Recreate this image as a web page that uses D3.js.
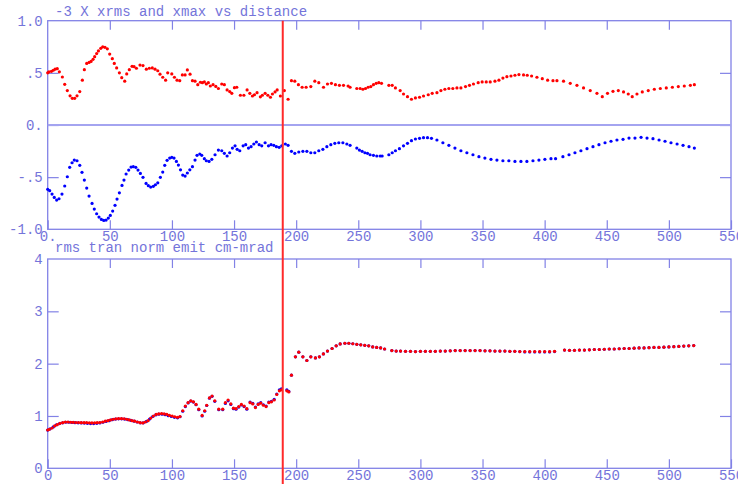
<!DOCTYPE html>
<html>
<head>
<meta charset="utf-8">
<script src="https://cdn.jsdelivr.net/npm/d3@7"></script>
<style>
  body { margin: 0; background: #fff; }
  svg text { font-family: "Liberation Mono", monospace; font-size: 14px; fill: #7474da; }
</style>
</head>
<body>
<svg id="chart" width="738" height="484"></svg>
<script>
const xmaxPts = [[0,0.50],[1,0.51],[3,0.515],[4.5,0.525],[6,0.535],[7.7,0.54],[9.4,0.51],[11.8,0.46],[13.7,0.39],[15.8,0.33],[18,0.28],[19.8,0.256],[21.7,0.256],[23.6,0.28],[25.8,0.32],[27.9,0.43],[29.5,0.53],[31.4,0.59],[33.3,0.60],[34.9,0.61],[36.5,0.63],[37.8,0.655],[39.4,0.685],[40.8,0.71],[42.7,0.735],[44.3,0.75],[46.1,0.745],[48,0.73],[49.9,0.68],[52,0.636],[53.6,0.59],[55.5,0.547],[57.7,0.50],[59.6,0.454],[62,0.42],[63.6,0.49],[65.7,0.53],[67.9,0.563],[69.5,0.56],[71.4,0.544],[74.3,0.575],[76.7,0.57],[79.4,0.535],[81.8,0.544],[84.2,0.547],[86.4,0.535],[88.6,0.52],[90.4,0.487],[92.6,0.458],[94.9,0.43],[96.6,0.50],[99.9,0.49],[102,0.458],[104.1,0.43],[106.3,0.425],[108.4,0.48],[110.6,0.48],[112.4,0.528],[114.6,0.487],[116.5,0.425],[118.6,0.42],[120.8,0.387],[122.9,0.41],[124.5,0.406],[126.1,0.413],[127.7,0.393],[129.3,0.406],[130.9,0.374],[133.1,0.387],[135.3,0.37],[137.4,0.35],[140.1,0.393],[142.2,0.387],[144.4,0.336],[146.5,0.32],[148.2,0.304],[150.3,0.358],[152.2,0.362],[155.1,0.285],[157.9,0.285],[160.5,0.336],[162.7,0.304],[164.8,0.278],[166.4,0.29],[168.5,0.31],[171.2,0.27],[172.8,0.285],[175,0.304],[177.2,0.285],[179.3,0.266],[180.9,0.297],[183,0.317],[184.7,0.336],[187.3,0.278],[190.5,0.33],[193.5,0.247],[196.2,0.425],[198.9,0.42],[201.8,0.387],[204.8,0.362],[208,0.362],[211.8,0.368],[215,0.42],[218.2,0.406],[222,0.362],[225.2,0.393],[228.4,0.40],[231.6,0.387],[234.8,0.38],[238.1,0.38],[241.8,0.374],[243.4,0.362],[248.8,0.35],[251.5,0.35],[253.7,0.343],[255.8,0.35],[257.9,0.362],[260.1,0.368],[262.2,0.387],[264.4,0.40],[266.5,0.406],[268.7,0.40],[274.6,0.38],[277.3,0.38],[279.9,0.355],[283.7,0.33],[286.4,0.297],[289.6,0.272],[292.8,0.247],[296,0.26],[299.3,0.266],[302.5,0.278],[306.3,0.29],[309.5,0.304],[313.3,0.31],[316.5,0.33],[319.7,0.343],[322.9,0.35],[326.1,0.35],[329.4,0.355],[332.6,0.355],[336.3,0.368],[339.5,0.38],[342.7,0.393],[346.5,0.406],[349.7,0.413],[353,0.413],[356.2,0.413],[360,0.42],[363.2,0.43],[366.4,0.45],[369.6,0.463],[372.9,0.47],[376.1,0.477],[379.3,0.483],[383,0.48],[386,0.477],[389.5,0.47],[393.8,0.458],[398.1,0.444],[402.4,0.43],[406.7,0.425],[409.9,0.425],[415.2,0.42],[420.6,0.40],[426,0.38],[431.3,0.355],[436.7,0.33],[442.1,0.304],[446.4,0.272],[450.6,0.304],[455,0.323],[459.3,0.33],[463.5,0.317],[467.3,0.297],[470.5,0.272],[474.3,0.297],[478.6,0.317],[483.4,0.33],[488.3,0.343],[493.1,0.35],[497.9,0.355],[502.8,0.362],[507.6,0.368],[512.4,0.374],[517.3,0.38],[520.5,0.387]];

const xrmsPts = [[0,-0.617],[1.6,-0.63],[3.5,-0.662],[5.3,-0.694],[7.2,-0.72],[9.1,-0.707],[11.5,-0.662],[13.7,-0.585],[15.8,-0.496],[17.7,-0.406],[19.6,-0.362],[21.4,-0.336],[23.6,-0.343],[25.8,-0.387],[27.6,-0.454],[29.5,-0.528],[31.4,-0.605],[33.3,-0.681],[35.7,-0.752],[37.5,-0.806],[39.4,-0.851],[41.3,-0.883],[43.2,-0.905],[45.1,-0.915],[47,-0.912],[48.8,-0.892],[50.4,-0.867],[52.3,-0.825],[54.2,-0.77],[55.8,-0.71],[57.7,-0.65],[59.8,-0.579],[61.4,-0.528],[63.1,-0.47],[65.2,-0.432],[67.1,-0.403],[68.9,-0.40],[70.9,-0.406],[72.7,-0.432],[74.6,-0.464],[76.7,-0.502],[79.2,-0.56],[81,-0.582],[82.9,-0.595],[85,-0.588],[86.7,-0.573],[88.6,-0.554],[90.7,-0.502],[92.6,-0.451],[94.2,-0.387],[96.1,-0.339],[98.2,-0.317],[99.9,-0.31],[101.7,-0.317],[103.6,-0.349],[105.2,-0.384],[106.9,-0.43],[108.7,-0.48],[110.6,-0.49],[112.4,-0.46],[114.4,-0.43],[116.5,-0.40],[118.6,-0.336],[120.2,-0.291],[122.4,-0.278],[124,-0.291],[126.1,-0.323],[127.7,-0.343],[129.9,-0.349],[132.1,-0.329],[134.7,-0.285],[137.4,-0.24],[140.1,-0.247],[142.2,-0.272],[144.4,-0.297],[146.5,-0.266],[148.7,-0.221],[150.8,-0.20],[152.5,-0.233],[154.6,-0.247],[157.3,-0.20],[159.4,-0.189],[161.6,-0.221],[163.7,-0.208],[165.9,-0.182],[168,-0.163],[170.2,-0.189],[172.3,-0.20],[175,-0.17],[177.7,-0.20],[179.8,-0.189],[182,-0.195],[184.1,-0.208],[186.3,-0.214],[188.4,-0.20],[191.3,-0.182],[193.5,-0.195],[196.2,-0.252],[198.9,-0.272],[202.1,-0.259],[205.4,-0.252],[208.6,-0.252],[211.8,-0.266],[215,-0.266],[218.2,-0.247],[221.5,-0.233],[224.7,-0.208],[227.9,-0.189],[231.1,-0.176],[234.3,-0.17],[237.6,-0.17],[240.8,-0.182],[243.4,-0.195],[248.8,-0.221],[250.9,-0.24],[253.1,-0.252],[255.3,-0.266],[257.4,-0.272],[259.5,-0.285],[262.2,-0.291],[264.9,-0.297],[267.6,-0.297],[269.2,-0.297],[274.6,-0.285],[277.3,-0.266],[279.9,-0.247],[283.1,-0.227],[286.4,-0.20],[289.6,-0.176],[292.8,-0.15],[296,-0.134],[299.3,-0.128],[302.5,-0.122],[305.7,-0.122],[308.9,-0.128],[313.3,-0.144],[318.1,-0.17],[322.9,-0.195],[327.8,-0.221],[332.6,-0.247],[337.4,-0.266],[342.3,-0.285],[347.1,-0.304],[351.9,-0.317],[356.8,-0.329],[361.6,-0.336],[366.4,-0.343],[371.2,-0.343],[376.1,-0.349],[380.9,-0.349],[385.7,-0.349],[390.6,-0.343],[395.4,-0.336],[400.2,-0.329],[405.1,-0.323],[408.8,-0.323],[414.7,-0.304],[419.6,-0.285],[424.4,-0.266],[429.2,-0.247],[434.1,-0.227],[438.9,-0.208],[443.7,-0.189],[448.6,-0.17],[453.4,-0.156],[458.2,-0.144],[463.1,-0.137],[467.9,-0.125],[472.7,-0.125],[477.6,-0.118],[482.4,-0.125],[487.2,-0.131],[492.1,-0.144],[496.9,-0.156],[501.7,-0.17],[506.6,-0.182],[511.4,-0.195],[516.2,-0.208],[520.5,-0.221]];

const emitBluePts = [[0,0.73],[2,0.755],[4.5,0.79],[7,0.83],[9.5,0.855],[12,0.87],[14.5,0.88],[17,0.88],[19.5,0.875],[22,0.872],[24.5,0.87],[27,0.868],[29.5,0.865],[32,0.86],[34.5,0.855],[37,0.855],[39.5,0.86],[42,0.868],[44.5,0.88],[47,0.895],[49.5,0.91],[52,0.93],[54.5,0.94],[57,0.945],[59.5,0.945],[62,0.94],[64.5,0.93],[67,0.915],[69.5,0.9],[72,0.885],[74.5,0.87],[77,0.87],[79.5,0.895],[82,0.94],[84.5,0.99],[87,1.02],[89.5,1.035],[92,1.035],[94.5,1.025],[97,1.005],[99.5,0.99],[102,0.975],[104.5,0.965],[106.5,0.985],[108.7,1.09],[110.8,1.18],[113,1.25],[115.2,1.285],[117.3,1.265],[119.4,1.215],[121.6,1.12],[124.3,1.0],[126.4,1.09],[128,1.2],[130.2,1.34],[132.3,1.375],[134.5,1.28],[137.7,1.12],[140.9,1.12],[143,1.24],[145.2,1.29],[147.4,1.22],[149.5,1.14],[151.6,1.13],[153.8,1.17],[155.9,1.21],[158.1,1.18],[160.3,1.13],[162.9,1.265],[165.1,1.24],[167.2,1.17],[169.4,1.23],[171.5,1.255],[173.6,1.215],[175.8,1.19],[178,1.265],[180.1,1.28],[182.3,1.32],[184.4,1.42],[186.5,1.5],[188.1,1.52],[192.5,1.5],[194.1,1.47],[196.2,1.78],[199.4,2.13],[202.1,2.22],[205.4,2.13],[208.6,2.06],[211.8,2.13],[215.5,2.11],[218.7,2.13],[221.9,2.185],[225.2,2.24],[228.9,2.29],[232.2,2.34],[235.4,2.377],[239.2,2.39],[242.4,2.39],[245.6,2.38],[248.8,2.37],[252,2.36],[255.2,2.35],[258.4,2.34],[261.6,2.32],[264.8,2.31],[268,2.3],[271.2,2.28],[277,2.25],[280.5,2.24],[284,2.24],[288,2.235],[292,2.235],[296,2.23],[300,2.235],[304,2.235],[308,2.235],[312,2.235],[316,2.24],[320,2.24],[324,2.245],[328,2.25],[332,2.25],[336,2.25],[340,2.25],[344,2.25],[348,2.25],[352,2.245],[356,2.245],[360,2.24],[364,2.24],[368,2.24],[372,2.235],[376,2.235],[380,2.23],[384,2.225],[388,2.225],[392,2.225],[396,2.225],[400,2.225],[404,2.225],[408,2.23],[416,2.26],[420,2.255],[424,2.255],[428,2.26],[432,2.26],[436,2.265],[440,2.27],[444,2.27],[448,2.275],[452,2.28],[456,2.28],[460,2.285],[464,2.29],[468,2.29],[472,2.295],[476,2.3],[480,2.3],[484,2.305],[488,2.31],[492,2.31],[496,2.315],[500,2.32],[504,2.325],[508,2.33],[512,2.335],[516,2.34],[520,2.345]];

const emitRedPts = [[0,0.732],[1.3,0.745],[3.5,0.77],[5.6,0.81],[7.7,0.834],[9.9,0.86],[12.1,0.872],[14.2,0.885],[16.3,0.885],[18.5,0.88],[20.6,0.878],[22.8,0.875],[24.9,0.875],[27,0.872],[29.2,0.872],[31.3,0.872],[33.5,0.87],[35.6,0.868],[37.8,0.87],[39.9,0.872],[42,0.875],[44.2,0.885],[46.3,0.9],[48.5,0.91],[50.6,0.925],[52.8,0.937],[55,0.945],[57.1,0.95],[59.3,0.95],[61.4,0.947],[63.6,0.937],[65.7,0.925],[67.9,0.91],[70,0.9],[72.2,0.885],[74.3,0.872],[76.5,0.868],[78.6,0.885],[80.8,0.91],[83,0.96],[85.1,1.0],[87.3,1.03],[89.4,1.04],[91.6,1.045],[93.7,1.04],[95.9,1.03],[98,1.01],[100.2,1.0],[102.3,0.985],[104.5,0.975],[106.5,0.99],[108.7,1.10],[110.8,1.19],[113,1.255],[115.2,1.29],[117.3,1.27],[119.4,1.22],[121.6,1.13],[124.3,1.01],[126.4,1.10],[128,1.205],[130.2,1.345],[132.3,1.38],[134.5,1.29],[137.7,1.13],[140.9,1.13],[143,1.255],[145.2,1.305],[147.4,1.23],[149.5,1.15],[151.6,1.14],[153.8,1.18],[155.9,1.22],[158.1,1.19],[160.3,1.14],[162.9,1.255],[165.1,1.23],[167.2,1.16],[169.4,1.22],[171.5,1.245],[173.6,1.205],[175.8,1.18],[178,1.255],[180.1,1.27],[182.3,1.305],[184.4,1.41],[186.5,1.48],[188.1,1.5],[192.5,1.48],[194.1,1.46],[196.2,1.78],[199.4,2.13],[202.1,2.22],[205.4,2.13],[208.6,2.06],[211.8,2.13],[215.5,2.11],[218.7,2.13],[221.9,2.185],[225.2,2.24],[228.9,2.29],[232.2,2.34],[235.4,2.377],[239.2,2.39],[242.4,2.39],[245.6,2.38],[248.8,2.37],[252,2.36],[255.2,2.35],[258.4,2.34],[261.6,2.32],[264.8,2.31],[268,2.3],[271.2,2.28],[277,2.25],[280.5,2.24],[284,2.24],[288,2.235],[292,2.235],[296,2.23],[300,2.235],[304,2.235],[308,2.235],[312,2.235],[316,2.24],[320,2.24],[324,2.245],[328,2.25],[332,2.25],[336,2.25],[340,2.25],[344,2.25],[348,2.25],[352,2.245],[356,2.245],[360,2.24],[364,2.24],[368,2.24],[372,2.235],[376,2.235],[380,2.23],[384,2.23],[388,2.23],[392,2.23],[396,2.23],[400,2.23],[404,2.23],[408,2.235],[416,2.26],[420,2.255],[424,2.255],[428,2.26],[432,2.26],[436,2.265],[440,2.27],[444,2.27],[448,2.275],[452,2.28],[456,2.28],[460,2.285],[464,2.29],[468,2.29],[472,2.295],[476,2.3],[480,2.3],[484,2.305],[488,2.31],[492,2.31],[496,2.315],[500,2.32],[504,2.325],[508,2.33],[512,2.335],[516,2.34],[520,2.345]];

const xTicks = [0,50,100,150,200,250,300,350,400,450,500,550];
const topYTicks = [-1, -0.5, 0, 0.5, 1];
const topYLabels = ["-1.0", "-.5", "0.", ".5", "1.0"];
const botYTicks = [0, 1, 2, 3, 4];
const markerDist = 189.2;
const topTitle = "-3 X xrms and xmax vs distance";
const botTitle = "rms tran norm emit cm-mrad";

const axisCol = "#8282e6";
const svg = d3.select("#chart");

const x = d3.scaleLinear().domain([0, 550]).range([47.7, 731]);
const yTop = d3.scaleLinear().domain([-1, 1]).range([229.3, 20.7]);
const yBot = d3.scaleLinear().domain([0, 4]).range([468.3, 259]);

function panel(y, yTicks, yFmt, xFmt) {
  const [y0, y1] = y.range();
  const inner = xTicks.slice(1, -1);
  const yInner = yTicks.slice(1, -1);
  const g = svg.append("g");

  // ticks on top edge, pointing down
  g.append("g").attr("transform", `translate(0,${y1})`)
    .call(d3.axisBottom(x).tickValues(inner).tickSize(9).tickFormat(""));
  // bottom edge, ticks pointing up + labels
  g.append("g").attr("transform", `translate(0,${y0})`)
    .call(d3.axisBottom(x).tickValues(xTicks).tickSizeInner(-9).tickSizeOuter(0).tickPadding(2).tickFormat(xFmt));
  // left ticks
  g.append("g").attr("transform", `translate(${x.range()[0]},0)`)
    .call(d3.axisRight(y).tickValues(yInner).tickSize(11).tickFormat(""));
  g.append("g").attr("transform", `translate(${x.range()[0]},0)`)
    .call(d3.axisLeft(y).tickValues(yTicks).tickSize(0).tickPadding(5).tickFormat(yFmt));
  // right ticks
  g.append("g").attr("transform", `translate(${x.range()[1]},0)`)
    .call(d3.axisLeft(y).tickValues(yInner).tickSize(11).tickFormat(""));

  g.selectAll(".domain").remove();
  g.selectAll(".tick line").attr("stroke", axisCol).attr("stroke-width", 1.2);
  g.selectAll(".tick text").attr("fill", "#7474da")
    .style("font-family", "Liberation Mono, monospace").style("font-size", "14px");

  g.append("rect")
    .attr("x", x.range()[0]).attr("y", y1)
    .attr("width", x.range()[1] - x.range()[0]).attr("height", y0 - y1)
    .attr("fill", "none").attr("stroke", axisCol).attr("stroke-width", 1.3);
  return g;
}

panel(yTop, topYTicks, (d, i) => topYLabels[topYTicks.indexOf(d)], d => d === 0 ? "0." : d);
panel(yBot, botYTicks, d => d, d => d);

// zero line
svg.append("line")
  .attr("x1", x(0)).attr("x2", x(550)).attr("y1", yTop(0)).attr("y2", yTop(0))
  .attr("stroke", "#a4a4f0").attr("stroke-width", 2);

function dots(data, y, col) {
  svg.append("g").selectAll("circle").data(data).join("circle")
    .attr("cx", d => x(d[0])).attr("cy", d => y(d[1])).attr("r", 1.6).attr("fill", col);
}
dots(xmaxPts, yTop, "#ff0000");
dots(xrmsPts, yTop, "#0000ff");
dots(emitBluePts, yBot, "#0000ff");
dots(emitRedPts, yBot, "#ff0000");

svg.append("text").attr("x", 55).attr("y", 16).text(topTitle);
svg.append("text").attr("x", 55).attr("y", 252).text(botTitle);

svg.append("line")
  .attr("x1", x(markerDist)).attr("x2", x(markerDist))
  .attr("y1", yTop(1)).attr("y2", 484)
  .attr("stroke", "#ff2a2a").attr("stroke-width", 2);
</script>
</body>
</html>
